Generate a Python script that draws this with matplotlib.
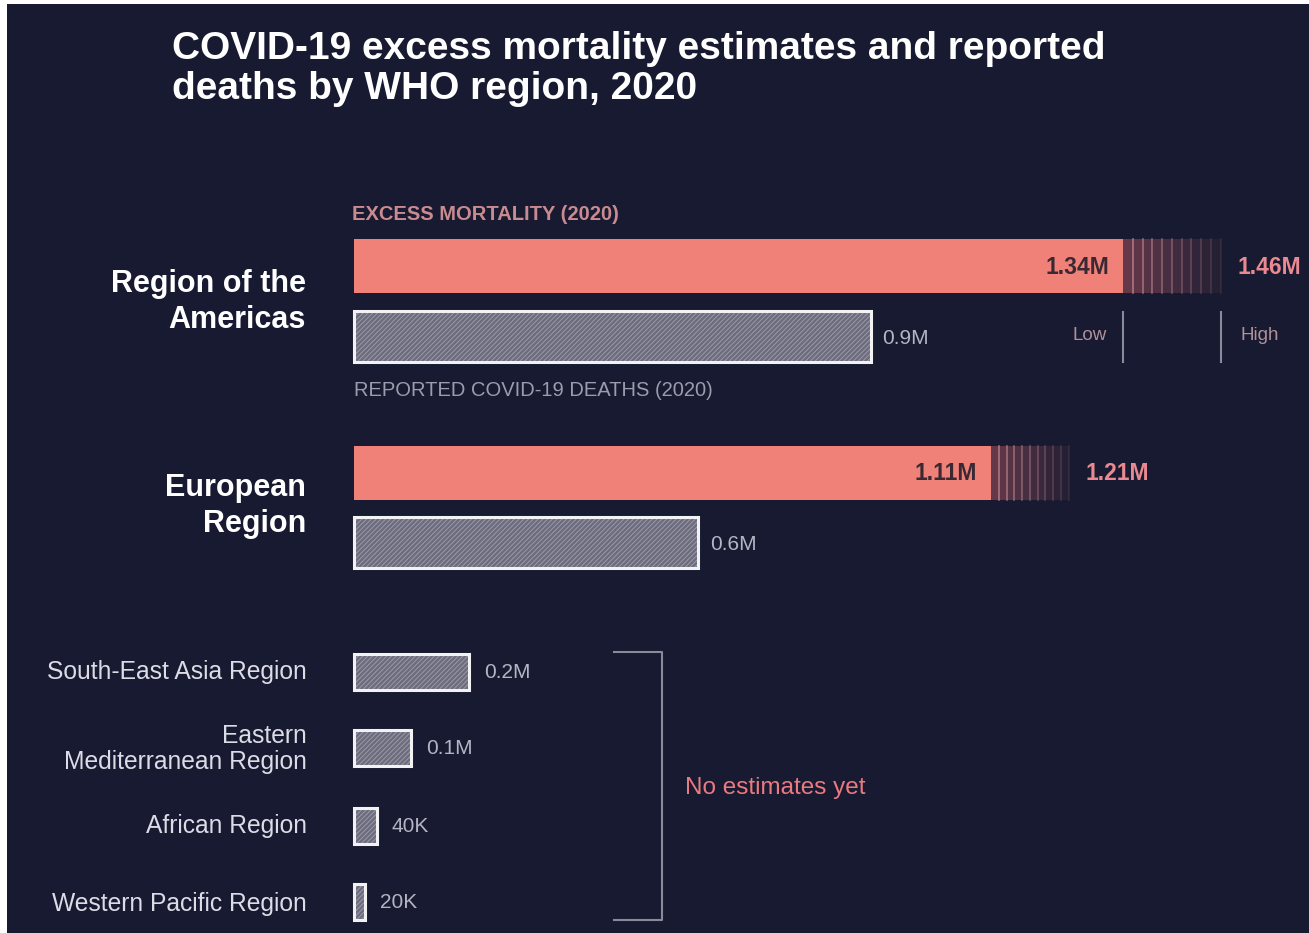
import numpy as np
import matplotlib
matplotlib.use('Agg')
import matplotlib.pyplot as plt
from matplotlib.patches import Rectangle

plt.rcParams['font.family'] = ['Liberation Sans', 'DejaVu Sans']
plt.rcParams['hatch.linewidth'] = 0.7

# Data
big_regions = ['Region of the\nAmericas', 'European\nRegion']
excess = [1.34, 1.11]
excess_high = [1.46, 1.21]
excess_labels = ['1.34M', '1.11M']
high_labels = ['1.46M', '1.21M']
range_drawn_end = [1.51, 1.245]   # where the striped range ends in the picture
big_reported = [0.9, 0.6]
big_reported_labels = ['0.9M', '0.6M']

small_regions = ['South-East Asia Region', 'Eastern\nMediterranean Region',
                 'African Region', 'Western Pacific Region']
small_reported = [0.2, 0.1, 0.04, 0.02]
small_labels = ['0.2M', '0.1M', '40K', '20K']

BG = '#171a30'
SALMON = '#ef8179'
W, H = 1309, 933
PX0, SCALE = 354, 574   # pixel of zero and pixels per million

fig = plt.figure(figsize=(W / 100, H / 100), dpi=100, facecolor='white')
fig.patches.append(Rectangle((7 / W, 0), 1, 1 - 4 / H, transform=fig.transFigure,
                             facecolor=BG, edgecolor='none', zorder=-10))
ax = fig.add_axes([0, 0, 1, 1])
ax.set_xlim(-PX0 / SCALE, (W - PX0) / SCALE)
ax.set_ylim(H, 0)
ax.axis('off')


def dx(p):
    return p / SCALE


def reported_bar(val, yc, h):
    ax.barh(yc, val, height=h, left=0, color='#6c6c7c', edgecolor='#9a9aaa',
            hatch='///////', linewidth=0, zorder=2)
    ax.barh(yc, val, height=h, left=0, color='none', edgecolor='#f2f2f5',
            linewidth=2.2, zorder=3)


fig.text(172 / W, 1 - 99 / H, 'COVID-19 excess mortality estimates and reported\ndeaths by WHO region, 2020',
         color='white', fontsize=28, fontweight='bold', va='baseline', linespacing=1.13)

# big regions
ex_y = [266, 473]
rep_y = [336, 542]
lab_y = [302, 506]
for i in range(2):
    ax.barh(ex_y[i], excess[i], height=54, color=SALMON, zorder=2)
    # uncertainty range: fading stripes
    edges = np.linspace(excess[i], range_drawn_end[i], 11)
    for k in range(10):
        ax.barh(ex_y[i], edges[k + 1] - edges[k], left=edges[k], height=54,
                color='#c0606a', alpha=0.45 - 0.04 * k, linewidth=0, zorder=2)
        ax.plot([edges[k + 1], edges[k + 1]], [ex_y[i] - 27, ex_y[i] + 27],
                color='#f0a8b0', alpha=0.5 - 0.045 * k, lw=1.3, zorder=3)
    ax.text(excess[i] - dx(14), ex_y[i] + 1, excess_labels[i], ha='right', va='center',
            fontsize=16.5, fontweight='bold', color='#3a2832', zorder=4)
    ax.text(range_drawn_end[i] + dx(17), ex_y[i] + 1, high_labels[i], ha='left', va='center',
            fontsize=16.5, fontweight='bold', color='#ea8a90', zorder=4)
    reported_bar(big_reported[i], rep_y[i], 51)
    ax.text(big_reported[i] + dx(12), rep_y[i] + 2, big_reported_labels[i], ha='left',
            va='center', fontsize=15, color='#b4b4c4')
    ax.text(-dx(48), lab_y[i], big_regions[i], ha='right', va='center', fontsize=22,
            fontweight='bold', color='white', linespacing=1.25)

ax.text(-dx(2), 215, 'EXCESS MORTALITY (2020)', ha='left', va='center', fontsize=14.5,
        fontweight='bold', color='#c98a90')
ax.text(0, 390, 'REPORTED COVID-19 DEATHS (2020)', ha='left', va='center', fontsize=14.5,
        color='#9c9cae')

# low / high legend
for xv in [excess[0], range_drawn_end[0]]:
    ax.plot([xv, xv], [312, 362], color='#8a8a9a', lw=1.5)
ax.text(excess[0] - dx(16), 336, 'Low', ha='right', va='center', fontsize=13.5, color='#b0909a')
ax.text(range_drawn_end[0] + dx(20), 336, 'High', ha='left', va='center', fontsize=13.5,
        color='#b0909a')

# small regions
small_y = [672, 748, 826, 902]
small_lab_y = [672, 749, 826, 904]
for i in range(4):
    reported_bar(small_reported[i], small_y[i], 36)
    ax.text(small_reported[i] + dx(15), small_y[i] + 1, small_labels[i], ha='left',
            va='center', fontsize=15, color='#b4b4c4')
    ax.text(-dx(47), small_lab_y[i], small_regions[i], ha='right', va='center',
            fontsize=17.7, color='#dcdce6', linespacing=1.15)

# bracket
bx0, bx1 = dx(614 - PX0), dx(662 - PX0)
ax.plot([bx0, bx1, bx1, bx0], [652, 652, 920, 920], color='#8a8a9a', lw=1.5)
ax.text(dx(685 - PX0), 788, 'No estimates yet', ha='left', va='center', fontsize=17.5,
        color='#ea7a80')

plt.savefig('out.png', dpi=100, facecolor=fig.get_facecolor())
